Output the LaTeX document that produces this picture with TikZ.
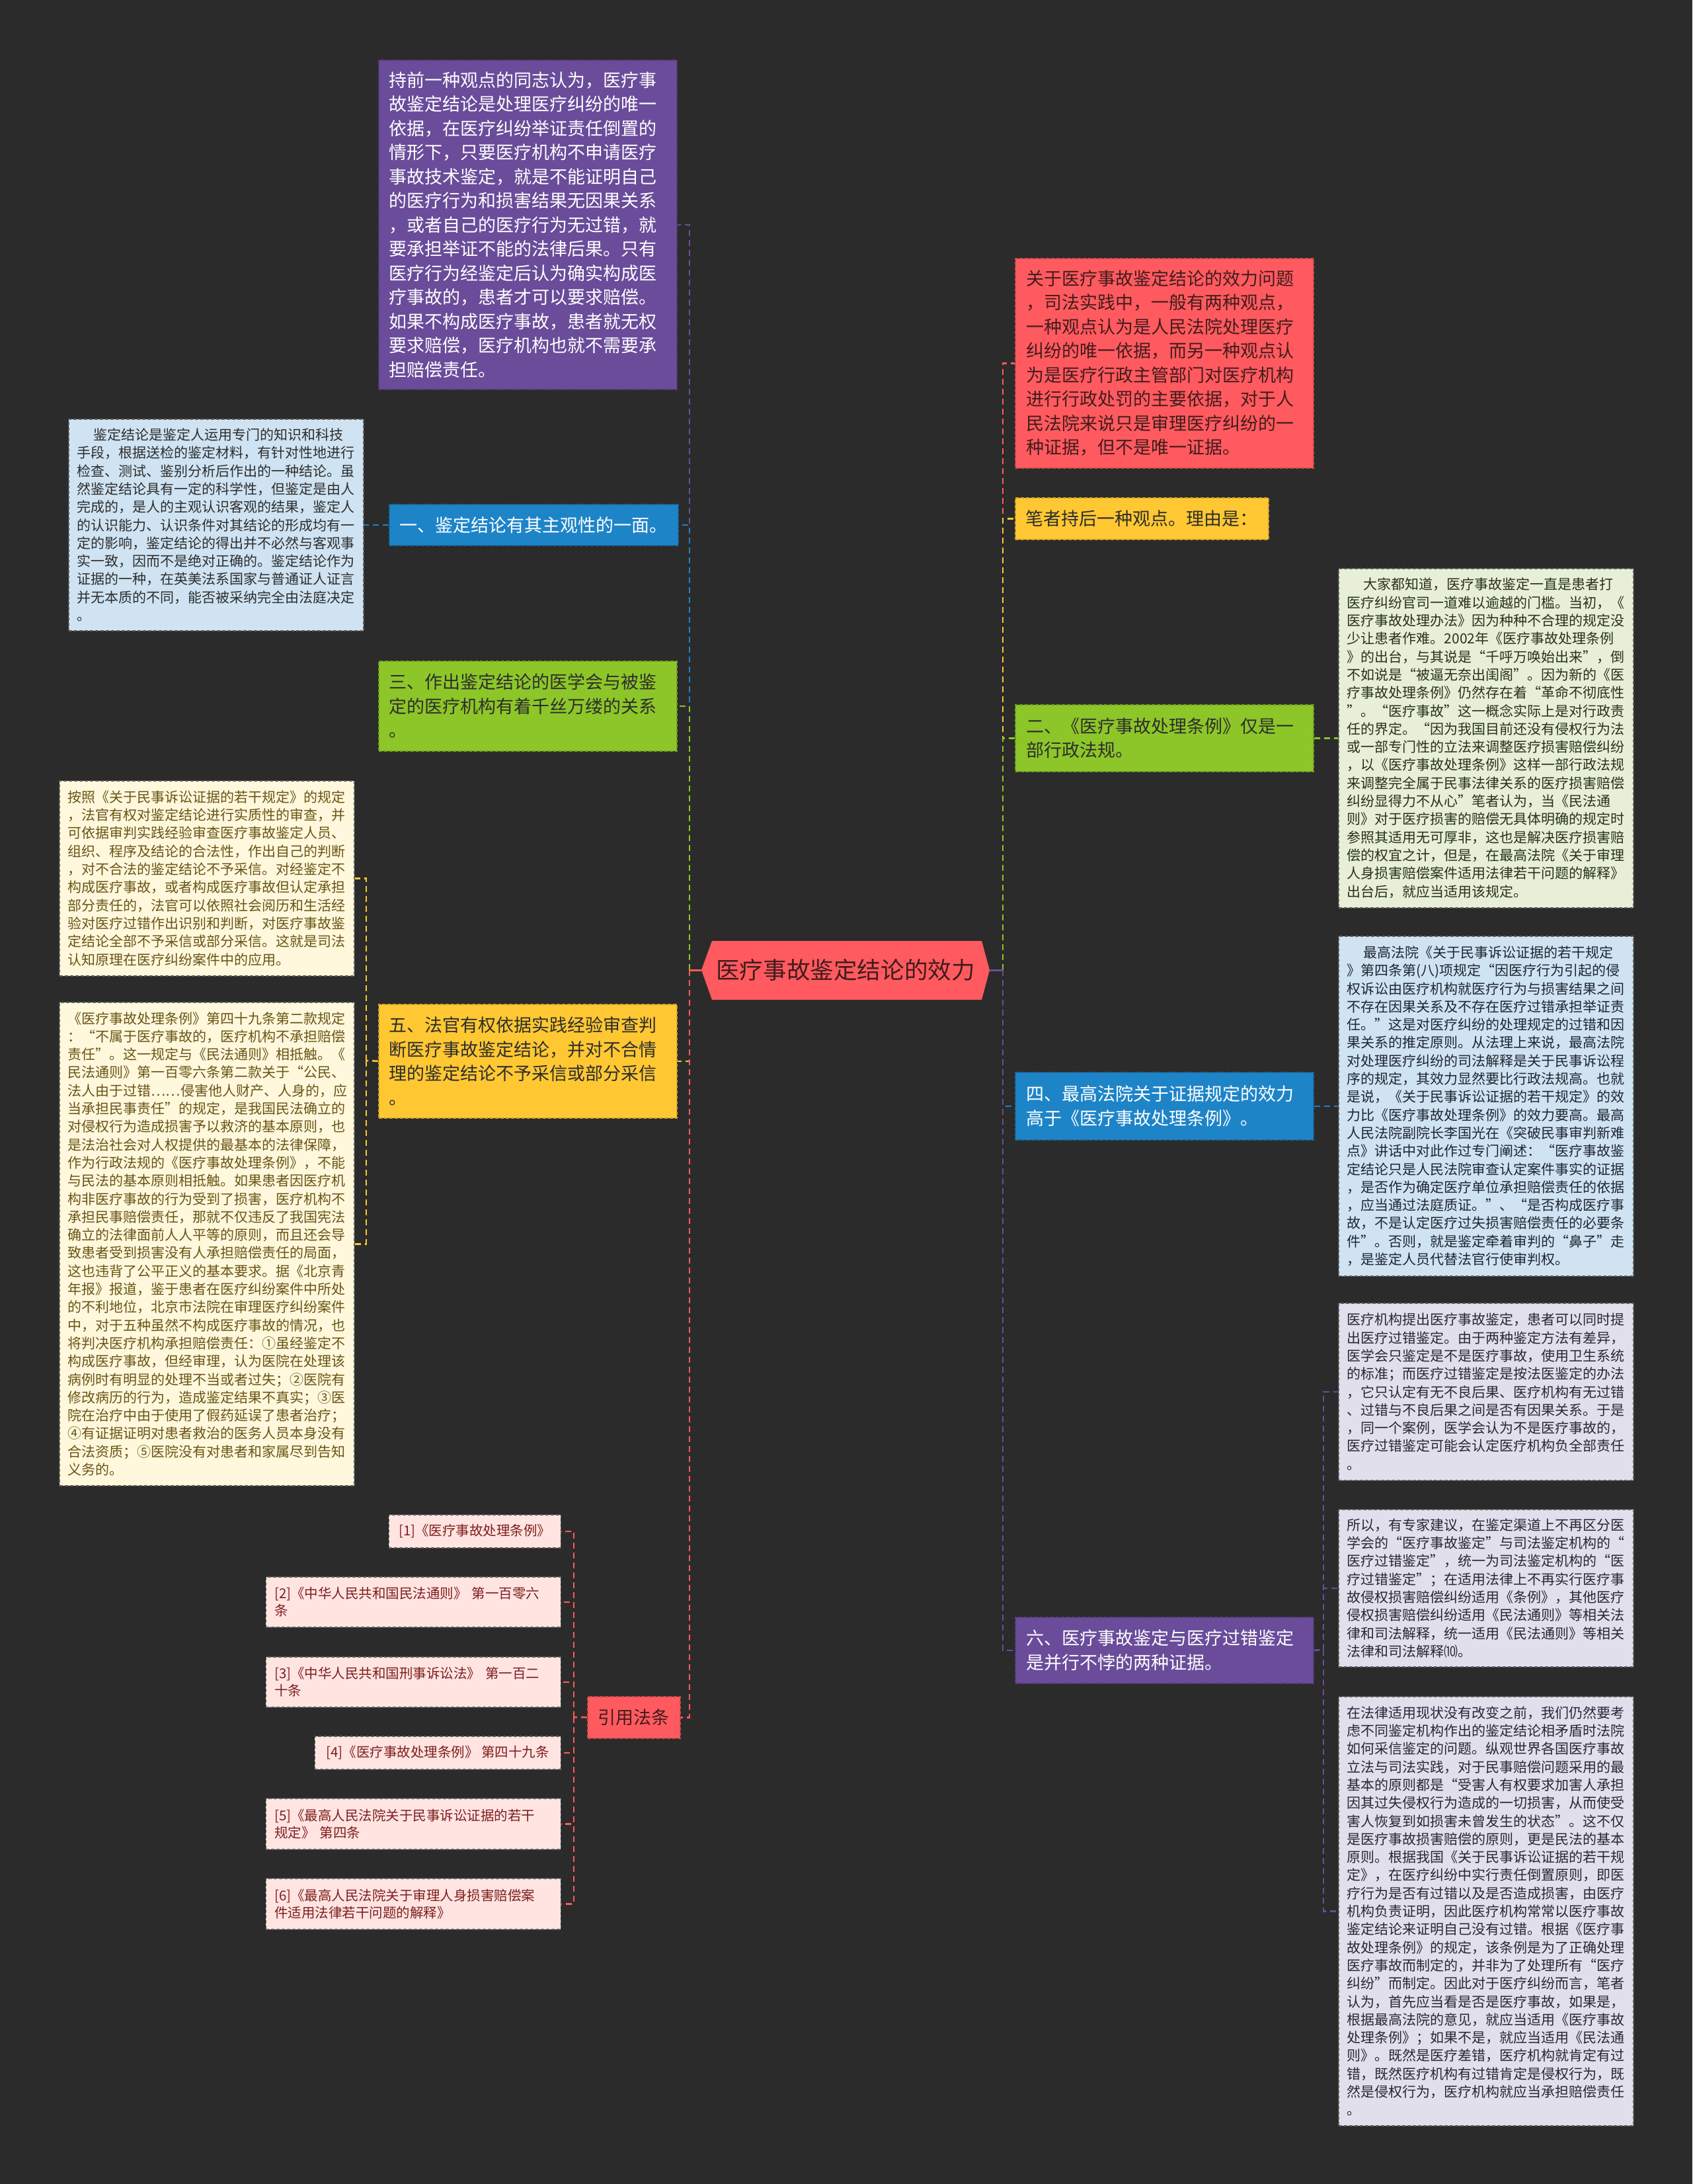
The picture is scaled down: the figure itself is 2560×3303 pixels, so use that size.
\documentclass[tikz,border=0pt]{standalone}
\usepackage{fontspec}
\setmainfont{Noto Sans CJK SC}
\definecolor{bgc}{RGB}{43,43,43}
\definecolor{cred}{RGB}{255,90,95}
\definecolor{cpurple}{RGB}{106,76,154}
\definecolor{cblue}{RGB}{30,132,200}
\definecolor{cgreen}{RGB}{141,198,40}
\definecolor{cyellow}{RGB}{255,200,50}
\definecolor{clblue}{RGB}{207,227,242}
\definecolor{ccream}{RGB}{255,248,220}
\definecolor{clgreen}{RGB}{231,240,214}
\definecolor{clav}{RGB}{226,223,236}
\definecolor{cpink}{RGB}{255,228,225}
\definecolor{tdark}{RGB}{45,45,45}
\definecolor{tred}{RGB}{65,28,28}
\definecolor{tbrown}{RGB}{105,84,22}
\definecolor{tmaroon}{RGB}{125,30,30}
\definecolor{tgreen}{RGB}{40,48,28}
\definecolor{tnavy}{RGB}{30,38,48}
\definecolor{tlav}{RGB}{40,38,55}
\definecolor{bgray}{RGB}{95,95,95}
\begin{document}
\begin{tikzpicture}[x=1pt,y=-1pt,
  box/.style={rectangle, anchor=north west, align=left, inner ysep=0pt, line width=1.5pt, dash pattern=on 5pt off 3pt},
  lvl/.style={box, font=\fontsize{27pt}{36.5pt}\selectfont, inner xsep=16pt},
  lvr/.style={box, font=\fontsize{27pt}{36.5pt}\selectfont, inner xsep=17pt, text width=417pt},
  det/.style={box, font=\fontsize{21pt}{27.3pt}\selectfont, inner xsep=13pt, text width=420pt, draw=bgray},
  refb/.style={box, anchor=north east, font=\fontsize{20.5pt}{26pt}\selectfont, inner xsep=13pt, fill=cpink, draw=bgray, text=tmaroon},
  conn/.style={line width=2.5pt, dash pattern=on 9pt off 6pt},
  stub/.style={line width=3pt}
]
\fill[bgc] (0,0) rectangle (2560,3303);
\useasboundingbox (0,0) rectangle (2560,3303);

% centre
\coordinate (CL) at (1061,1467);
\coordinate (CR) at (1497,1467);
\fill[cred] (CL) -- (1077,1423) -- (1485,1423) -- (CR) -- (1485,1512) -- (1077,1512) -- cycle;
\node[font=\fontsize{35.6pt}{40pt}\selectfont, text=tred] (C) at (1279,1467) {医疗事故鉴定结论的效力};
\coordinate (LB) at (1043,1467);
\coordinate (RB) at (1517,1467);

% left level 1
\node[lvl, fill=cpurple, draw=cpurple!80!black, text=white, text width=419pt, minimum height=498pt] (L1) at (572,90) {持前一种观点的同志认为，医疗事\\
故鉴定结论是处理医疗纠纷的唯一\\
依据，在医疗纠纷举证责任倒置的\\
情形下，只要医疗机构不申请医疗\\
事故技术鉴定，就是不能证明自己\\
的医疗行为和损害结果无因果关系\\
，或者自己的医疗行为无过错，就\\
要承担举证不能的法律后果。只有\\
医疗行为经鉴定后认为确实构成医\\
疗事故的，患者才可以要求赔偿。\\
如果不构成医疗事故，患者就无权\\
要求赔偿，医疗机构也就不需要承\\
担赔偿责任。};
\node[lvl, fill=cblue, draw=cblue!80!black, text=white, minimum width=436pt, minimum height=62pt] (L2) at (588,762) {一、鉴定结论有其主观性的一面。};
\node[lvl, fill=cgreen, draw=cgreen!80!black, text=tdark, text width=419pt, minimum height=136pt] (L3) at (572,999) {三、作出鉴定结论的医学会与被鉴\\
定的医疗机构有着千丝万缕的关系\\
。};
\node[lvl, fill=cyellow, draw=cyellow!80!black, text=tdark, text width=419pt, minimum height=172pt] (L4) at (572,1518) {五、法官有权依据实践经验审查判\\
断医疗事故鉴定结论，并对不合情\\
理的鉴定结论不予采信或部分采信\\
。};
\node[lvl, fill=cred, draw=cred!80!black, text=tred, minimum width=136pt, minimum height=63pt] (L5) at (888,2565) {引用法条};

% right level 1
\node[lvr, fill=cred, draw=cred!80!black, text=tred, minimum height=317pt] (R1) at (1535,390) {关于医疗事故鉴定结论的效力问题\\
，司法实践中，一般有两种观点，\\
一种观点认为是人民法院处理医疗\\
纠纷的唯一依据，而另一种观点认\\
为是医疗行政主管部门对医疗机构\\
进行行政处罚的主要依据，对于人\\
民法院来说只是审理医疗纠纷的一\\
种证据，但不是唯一证据。};
\node[lvl, fill=cyellow, draw=cyellow!80!black, text=tdark, minimum width=382pt, minimum height=63pt] (R2) at (1535,752) {笔者持后一种观点。理由是：};
\node[lvr, fill=cgreen, draw=cgreen!80!black, text=tdark, minimum height=101pt] (R3) at (1535,1065) {二、《医疗事故处理条例》仅是一\\
部行政法规。};
\node[lvr, fill=cblue, draw=cblue!80!black, text=white, minimum height=102pt] (R4) at (1535,1621) {四、最高法院关于证据规定的效力\\
高于《医疗事故处理条例》。};
\node[lvr, fill=cpurple, draw=cpurple!80!black, text=white, minimum height=100pt] (R5) at (1535,2445) {六、医疗事故鉴定与医疗过错鉴定\\
是并行不悖的两种证据。};

% left details
\node[det, fill=clblue, text=tdark, minimum height=320pt] (D1) at (103,633) {\hspace*{25pt}鉴定结论是鉴定人运用专门的知识和科技\\
手段，根据送检的鉴定材料，有针对性地进行\\
检查、测试、鉴别分析后作出的一种结论。虽\\
然鉴定结论具有一定的科学性，但鉴定是由人\\
完成的，是人的主观认识客观的结果，鉴定人\\
的认识能力、认识条件对其结论的形成均有一\\
定的影响，鉴定结论的得出并不必然与客观事\\
实一致，因而不是绝对正确的。鉴定结论作为\\
证据的一种，在英美法系国家与普通证人证言\\
并无本质的不同，能否被采纳完全由法庭决定\\
。};
\node[det, fill=ccream, text=tbrown, minimum height=295pt] (YA) at (89,1180) {按照《关于民事诉讼证据的若干规定》的规定\\
，法官有权对鉴定结论进行实质性的审查，并\\
可依据审判实践经验审查医疗事故鉴定人员、\\
组织、程序及结论的合法性，作出自己的判断\\
，对不合法的鉴定结论不予采信。对经鉴定不\\
构成医疗事故，或者构成医疗事故但认定承担\\
部分责任的，法官可以依照社会阅历和生活经\\
验对医疗过错作出识别和判断，对医疗事故鉴\\
定结论全部不予采信或部分采信。这就是司法\\
认知原理在医疗纠纷案件中的应用。};
\node[det, fill=ccream, text=tbrown, minimum height=731pt] (YB) at (89,1515) {《医疗事故处理条例》第四十九条第二款规定\\
：“不属于医疗事故的，医疗机构不承担赔偿\\
责任”。这一规定与《民法通则》相抵触。《\\
民法通则》第一百零六条第二款关于“公民、\\
法人由于过错……侵害他人财产、人身的，应\\
当承担民事责任”的规定，是我国民法确立的\\
对侵权行为造成损害予以救济的基本原则，也\\
是法治社会对人权提供的最基本的法律保障，\\
作为行政法规的《医疗事故处理条例》，不能\\
与民法的基本原则相抵触。如果患者因医疗机\\
构非医疗事故的行为受到了损害，医疗机构不\\
承担民事赔偿责任，那就不仅违反了我国宪法\\
确立的法律面前人人平等的原则，而且还会导\\
致患者受到损害没有人承担赔偿责任的局面，\\
这也违背了公平正义的基本要求。据《北京青\\
年报》报道，鉴于患者在医疗纠纷案件中所处\\
的不利地位，北京市法院在审理医疗纠纷案件\\
中，对于五种虽然不构成医疗事故的情况，也\\
将判决医疗机构承担赔偿责任：①虽经鉴定不\\
构成医疗事故，但经审理，认为医院在处理该\\
病例时有明显的处理不当或者过失；②医院有\\
修改病历的行为，造成鉴定结果不真实；③医\\
院在治疗中由于使用了假药延误了患者治疗；\\
④有证据证明对患者救治的医务人员本身没有\\
合法资质；⑤医院没有对患者和家属尽到告知\\
义务的。};

% references
\node[refb, minimum width=260pt, minimum height=50pt] (F1) at (849,2290) {[1]《医疗事故处理条例》};
\node[refb, text width=420pt, minimum height=76pt] (F2) at (849,2384) {[2]《中华人民共和国民法通则》 第一百零六\\
条};
\node[refb, text width=420pt, minimum height=76pt] (F3) at (849,2505) {[3]《中华人民共和国刑事诉讼法》 第一百二\\
十条};
\node[refb, minimum width=372pt, minimum height=50pt] (F4) at (849,2625) {[4]《医疗事故处理条例》 第四十九条};
\node[refb, text width=420pt, minimum height=77pt] (F5) at (849,2719) {[5]《最高人民法院关于民事诉讼证据的若干\\
规定》 第四条};
\node[refb, text width=420pt, minimum height=77pt] (F6) at (849,2840) {[6]《最高人民法院关于审理人身损害赔偿案\\
件适用法律若干问题的解释》};

% right details
\node[det, fill=clgreen, text=tgreen, minimum height=513pt] (G1) at (2024,859) {\hspace*{25pt}大家都知道，医疗事故鉴定一直是患者打\\
医疗纠纷官司一道难以逾越的门槛。当初，《\\
医疗事故处理办法》因为种种不合理的规定没\\
少让患者作难。2002年《医疗事故处理条例\\
》的出台，与其说是“千呼万唤始出来”，倒\\
不如说是“被逼无奈出闺阁”。因为新的《医\\
疗事故处理条例》仍然存在着“革命不彻底性\\
”。“医疗事故”这一概念实际上是对行政责\\
任的界定。“因为我国目前还没有侵权行为法\\
或一部专门性的立法来调整医疗损害赔偿纠纷\\
，以《医疗事故处理条例》这样一部行政法规\\
来调整完全属于民事法律关系的医疗损害赔偿\\
纠纷显得力不从心”笔者认为，当《民法通\\
则》对于医疗损害的赔偿无具体明确的规定时\\
参照其适用无可厚非，这也是解决医疗损害赔\\
偿的权宜之计，但是，在最高法院《关于审理\\
人身损害赔偿案件适用法律若干问题的解释》\\
出台后，就应当适用该规定。};
\node[det, fill=clblue, text=tnavy, minimum height=514pt] (BL) at (2024,1415) {\hspace*{25pt}最高法院《关于民事诉讼证据的若干规定\\
》第四条第(八)项规定“因医疗行为引起的侵\\
权诉讼由医疗机构就医疗行为与损害结果之间\\
不存在因果关系及不存在医疗过错承担举证责\\
任。”这是对医疗纠纷的处理规定的过错和因\\
果关系的推定原则。从法理上来说，最高法院\\
对处理医疗纠纷的司法解释是关于民事诉讼程\\
序的规定，其效力显然要比行政法规高。也就\\
是说，《关于民事诉讼证据的若干规定》的效\\
力比《医疗事故处理条例》的效力要高。最高\\
人民法院副院长李国光在《突破民事审判新难\\
点》讲话中对此作过专门阐述：“医疗事故鉴\\
定结论只是人民法院审查认定案件事实的证据\\
，是否作为确定医疗单位承担赔偿责任的依据\\
，应当通过法庭质证。”、“是否构成医疗事\\
故，不是认定医疗过失损害赔偿责任的必要条\\
件”。否则，就是鉴定牵着审判的“鼻子”走\\
，是鉴定人员代替法官行使审判权。};
\node[det, fill=clav, text=tlav, minimum height=268pt] (P1) at (2024,1970) {医疗机构提出医疗事故鉴定，患者可以同时提\\
出医疗过错鉴定。由于两种鉴定方法有差异，\\
医学会只鉴定是不是医疗事故，使用卫生系统\\
的标准；而医疗过错鉴定是按法医鉴定的办法\\
，它只认定有无不良后果、医疗机构有无过错\\
、过错与不良后果之间是否有因果关系。于是\\
，同一个案例，医学会认为不是医疗事故的，\\
医疗过错鉴定可能会认定医疗机构负全部责任\\
。};
\node[det, fill=clav, text=tlav, minimum height=238pt] (P2) at (2024,2282) {所以，有专家建议，在鉴定渠道上不再区分医\\
学会的“医疗事故鉴定”与司法鉴定机构的“\\
医疗过错鉴定”，统一为司法鉴定机构的“医\\
疗过错鉴定”；在适用法律上不再实行医疗事\\
故侵权损害赔偿纠纷适用《条例》，其他医疗\\
侵权损害赔偿纠纷适用《民法通则》等相关法\\
律和司法解释，统一适用《民法通则》等相关\\
法律和司法解释⑽。};
\node[det, fill=clav, text=tlav, minimum height=649pt] (P3) at (2024,2565) {在法律适用现状没有改变之前，我们仍然要考\\
虑不同鉴定机构作出的鉴定结论相矛盾时法院\\
如何采信鉴定的问题。纵观世界各国医疗事故\\
立法与司法实践，对于民事赔偿问题采用的最\\
基本的原则都是“受害人有权要求加害人承担\\
因其过失侵权行为造成的一切损害，从而使受\\
害人恢复到如损害未曾发生的状态”。这不仅\\
是医疗事故损害赔偿的原则，更是民法的基本\\
原则。根据我国《关于民事诉讼证据的若干规\\
定》，在医疗纠纷中实行责任倒置原则，即医\\
疗行为是否有过错以及是否造成损害，由医疗\\
机构负责证明，因此医疗机构常常以医疗事故\\
鉴定结论来证明自己没有过错。根据《医疗事\\
故处理条例》的规定，该条例是为了正确处理\\
医疗事故而制定的，并非为了处理所有“医疗\\
纠纷”而制定。因此对于医疗纠纷而言，笔者\\
认为，首先应当看是否是医疗事故，如果是，\\
根据最高法院的意见，就应当适用《医疗事故\\
处理条例》；如果不是，就应当适用《民法通\\
则》。既然是医疗差错，医疗机构就肯定有过\\
错，既然医疗机构有过错肯定是侵权行为，既\\
然是侵权行为，医疗机构就应当承担赔偿责任\\
。};

% connectors: centre to level 1 (left)
\draw[conn, cpurple] (LB) |- (L1.east);
\draw[conn, cblue] (LB) |- (L2.east);
\draw[conn, cgreen] (LB) |- (L3.east);
\draw[conn, cyellow] (LB) |- (L4.east);
\draw[conn, cred] (LB) |- (L5.east);
\draw[stub, cred] (CL) -- (LB);
% right
\draw[conn, cred] (RB) |- (R1.west);
\draw[conn, cyellow] (RB) |- (R2.west);
\draw[conn, cgreen] (RB) |- (R3.west);
\draw[conn, cblue] (RB) |- (R4.west);
\draw[conn, cpurple] (RB) |- (R5.west);
\draw[stub, cpurple] (CR) -- (RB);

% level 1 to details
\draw[conn, cblue] (L2.west) -- (D1.east);
\coordinate (B4) at (554,1604);
\draw[conn, cyellow] (L4.west) -- (B4);
\draw[conn, cyellow] (B4) |- (YA.east);
\draw[conn, cyellow] (B4) |- (YB.east);
\coordinate (B5) at (868,2597);
\draw[conn, cred] (L5.west) -- (B5);
\foreach \f in {F1,F2,F3,F4,F5,F6} {\draw[conn, cred] (B5) |- (\f.east);}
\draw[conn, cgreen] (R3.east) -- (G1.west);
\draw[conn, cblue] (R4.east) -- (BL.west);
\coordinate (B6) at (2002,2495);
\draw[conn, cpurple] (R5.east) -- (B6);
\foreach \p in {P1,P2,P3} {\draw[conn, cpurple] (B6) |- (\p.west);}
\end{tikzpicture}
\end{document}
